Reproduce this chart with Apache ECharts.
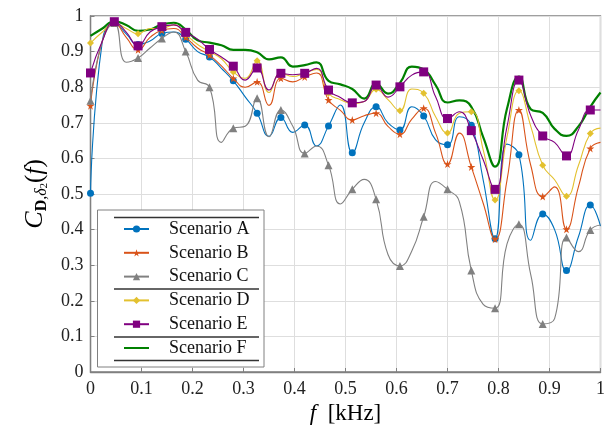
<!DOCTYPE html>
<html>
<head>
<meta charset="utf-8">
<script src="https://cdn.jsdelivr.net/npm/echarts@6/dist/echarts.min.js"></script>
<style>html,body{margin:0;padding:0;background:#fff}#c{width:614px;height:435px}</style>
</head>
<body>
<div id="c"></div>
<script>
const freq = [0, 0.0233, 0.0467, 0.07, 0.0933, 0.1167, 0.14, 0.1633, 0.1867, 0.21, 0.2333, 0.2567, 0.28, 0.3033, 0.3267, 0.35, 0.3733, 0.3967, 0.42, 0.4433, 0.4667, 0.49, 0.5133, 0.5367, 0.56, 0.5833, 0.6067, 0.63, 0.6533, 0.6767, 0.70, 0.7233, 0.7467, 0.77, 0.7933, 0.8167, 0.84, 0.8633, 0.8867, 0.91, 0.9333, 0.9567, 0.98, 1.0];
const scenA = [0.502, 0.93, 0.98, 0.95, 0.92, 0.93, 0.951, 0.955, 0.935, 0.90, 0.885, 0.853, 0.818, 0.773, 0.727, 0.662, 0.715, 0.673, 0.694, 0.635, 0.691, 0.75, 0.616, 0.70, 0.745, 0.70, 0.68, 0.745, 0.719, 0.652, 0.638, 0.717, 0.693, 0.539, 0.374, 0.64, 0.61, 0.37, 0.444, 0.40, 0.285, 0.38, 0.469, 0.41];
const scenB = [0.748, 0.93, 0.98, 0.94, 0.905, 0.94, 0.96, 0.965, 0.94, 0.91, 0.89, 0.86, 0.825, 0.80, 0.815, 0.749, 0.825, 0.815, 0.829, 0.84, 0.764, 0.735, 0.708, 0.72, 0.727, 0.69, 0.668, 0.71, 0.741, 0.671, 0.584, 0.671, 0.576, 0.474, 0.373, 0.539, 0.736, 0.58, 0.493, 0.52, 0.401, 0.52, 0.628, 0.645];
const scenC = [0.762, 0.93, 0.98, 0.87, 0.882, 0.91, 0.937, 0.955, 0.90, 0.82, 0.80, 0.645, 0.685, 0.69, 0.769, 0.661, 0.736, 0.69, 0.614, 0.635, 0.581, 0.472, 0.513, 0.541, 0.485, 0.33, 0.298, 0.34, 0.436, 0.535, 0.513, 0.478, 0.285, 0.19, 0.179, 0.36, 0.415, 0.273, 0.135, 0.15, 0.378, 0.338, 0.399, 0.413];
const scenD = [0.924, 0.955, 0.98, 0.965, 0.95, 0.965, 0.965, 0.975, 0.948, 0.92, 0.90, 0.88, 0.843, 0.825, 0.874, 0.785, 0.84, 0.83, 0.84, 0.85, 0.783, 0.765, 0.754, 0.76, 0.794, 0.765, 0.734, 0.795, 0.783, 0.717, 0.671, 0.727, 0.731, 0.624, 0.483, 0.661, 0.79, 0.69, 0.581, 0.54, 0.494, 0.58, 0.67, 0.685];
const scenE = [0.84, 0.93, 0.984, 0.955, 0.916, 0.955, 0.97, 0.975, 0.954, 0.935, 0.906, 0.885, 0.859, 0.82, 0.854, 0.792, 0.839, 0.835, 0.839, 0.853, 0.792, 0.771, 0.756, 0.76, 0.806, 0.772, 0.801, 0.834, 0.843, 0.773, 0.712, 0.731, 0.678, 0.596, 0.513, 0.689, 0.82, 0.72, 0.663, 0.645, 0.607, 0.68, 0.736, 0.736];
const scenF = [0.944, 0.965, 0.985, 0.975, 0.958, 0.962, 0.976, 0.981, 0.962, 0.932, 0.925, 0.918, 0.905, 0.905, 0.898, 0.878, 0.884, 0.858, 0.862, 0.87, 0.818, 0.808, 0.795, 0.768, 0.81, 0.782, 0.812, 0.858, 0.85, 0.806, 0.757, 0.763, 0.745, 0.66, 0.577, 0.74, 0.83, 0.738, 0.728, 0.683, 0.663, 0.69, 0.745, 0.785];
const names = ['Scenario A', 'Scenario B', 'Scenario C', 'Scenario D', 'Scenario E', 'Scenario F'];

const SERIF = '"Liberation Serif", "DejaVu Serif", serif';
const starPath = 'path://M50,0 L61,35 L98,35 L68,57 L79,91 L50,70 L21,91 L32,57 L2,35 L39,35 Z';

function build(vals, markEvery) {
  return vals.map((v, i) => {
    const item = { value: [freq[i], v] };
    if (!markEvery || i % 2 !== 0 || i === vals.length - 1) item.symbol = 'none';
    return item;
  });
}

const styles = [
  { color: '#0072BD', symbol: 'circle', size: 7, width: 1.1 },
  { color: '#D95319', symbol: starPath, size: 8, width: 1.1 },
  { color: '#808080', symbol: 'triangle', size: 8, width: 1.1 },
  { color: '#E3C12F', symbol: 'diamond', size: 7, width: 1.1 },
  { color: '#800080', symbol: 'rect', size: 9, width: 1.1 },
  { color: '#008000', symbol: 'none', size: 0, width: 2.2 }
];
const allVals = [scenA, scenB, scenC, scenD, scenE, scenF];

const series = allVals.map((vals, k) => ({
  name: names[k],
  type: 'line',
  smooth: 0.5,
  showAllSymbol: true,
  showSymbol: k < 5,
  symbol: styles[k].symbol,
  symbolSize: styles[k].size,
  clip: true,
  z: k === 5 ? 1 : 2 + k,
  lineStyle: { color: styles[k].color, width: styles[k].width },
  itemStyle: { color: styles[k].color },
  emphasis: { disabled: true },
  data: build(vals, k < 5)
}));

const legendData = names.map((n, k) => k < 5 ? { name: n } : { name: n, itemStyle: { opacity: 0 } });

const chart = echarts.init(document.getElementById('c'), null, { renderer: 'canvas' });
chart.setOption({
  animation: false,
  backgroundColor: '#fff',
  grid: { left: 90.5, right: 13.5, top: 16, bottom: 63, show: true, borderColor: '#808080', borderWidth: 1.3, backgroundColor: 'transparent' },
  xAxis: {
    type: 'value', min: 0, max: 1, interval: 0.1,
    name: '{it|f}  [kHz]', nameLocation: 'middle', nameGap: 27,
    nameTextStyle: { fontFamily: SERIF, fontSize: 23, color: '#000', rich: { it: { fontFamily: SERIF, fontSize: 23, fontStyle: 'italic', color: '#000' } } },
    axisLine: { show: true, lineStyle: { color: '#808080', width: 1.3 } },
    axisTick: { show: true, inside: true, length: 4, lineStyle: { color: '#808080' } },
    axisLabel: { fontFamily: SERIF, fontSize: 18, color: '#222', margin: 8 },
    splitLine: { show: true, lineStyle: { color: '#dedede', width: 1 } }
  },
  yAxis: {
    type: 'value', min: 0, max: 1, interval: 0.1,
    name: '{c|C}{s|D}{sc|,δ}{ss|2}{c2|(}{ci|f}{c2|)}', nameLocation: 'middle', nameGap: 40, nameRotate: 90,
    nameTextStyle: {
      fontFamily: SERIF, fontSize: 24, color: '#000',
      rich: {
        c: { fontFamily: SERIF, fontSize: 26, fontStyle: 'italic', color: '#000', lineHeight: 30, verticalAlign: 'middle' },
        c2: { fontFamily: SERIF, fontSize: 25, color: '#000', lineHeight: 30, verticalAlign: 'middle' },
        ci: { fontFamily: SERIF, fontSize: 25, fontStyle: 'italic', color: '#000', lineHeight: 30, verticalAlign: 'middle' },
        s: { fontFamily: SERIF, fontSize: 16, fontWeight: 'bold', color: '#000', lineHeight: 14, verticalAlign: 'bottom' },
        sc: { fontFamily: SERIF, fontSize: 16, fontStyle: 'italic', color: '#000', lineHeight: 14, verticalAlign: 'bottom' },
        ss: { fontFamily: SERIF, fontSize: 11, color: '#000', lineHeight: 6, verticalAlign: 'bottom' }
      }
    },
    axisLine: { show: true, lineStyle: { color: '#808080', width: 1.3 } },
    axisTick: { show: true, inside: true, length: 4, lineStyle: { color: '#808080' } },
    axisLabel: { fontFamily: SERIF, fontSize: 18, color: '#222', margin: 7 },
    splitLine: { show: true, lineStyle: { color: '#dedede', width: 1 } }
  },
  legend: {
    orient: 'vertical', left: 123, top: 220, padding: 0, z: 200,
    itemWidth: 25, itemHeight: 9, itemGap: 5.8,
    data: legendData,
    textStyle: { fontFamily: SERIF, fontSize: 18, lineHeight: 18, color: '#111', padding: [0, 0, 0, 15] },
    selectedMode: false
  },
  graphic: [
    { type: 'rect', z: 150, shape: { x: 97.5, y: 210, width: 166.5, height: 157 }, style: { fill: '#fff', stroke: '#808080', lineWidth: 1 } },
    { type: 'line', z: 210, shape: { x1: 114, y1: 217.5, x2: 259, y2: 217.5 }, style: { stroke: '#333', lineWidth: 1.3 } },
    { type: 'line', z: 210, shape: { x1: 114, y1: 289, x2: 259, y2: 289 }, style: { stroke: '#333', lineWidth: 1.3 } },
    { type: 'line', z: 210, shape: { x1: 114, y1: 337, x2: 259, y2: 337 }, style: { stroke: '#333', lineWidth: 1.3 } },
    { type: 'line', z: 210, shape: { x1: 114, y1: 360.5, x2: 259, y2: 360.5 }, style: { stroke: '#333', lineWidth: 1.3 } }
  ],
  series: series
});
</script>
</body>
</html>
